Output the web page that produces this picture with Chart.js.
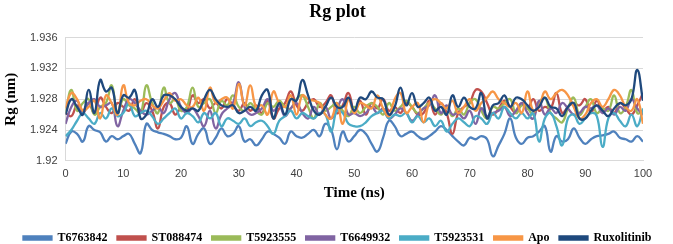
<!DOCTYPE html>
<html>
<head>
<meta charset="utf-8">
<script src="https://cdn.jsdelivr.net/npm/chart.js@4"></script>
<style>
  html, body { margin: 0; padding: 0; background: #fff; }
  #wrap { width: 673px; height: 244px; }
</style>
</head>
<body>
<div id="wrap"><canvas id="rgChart"></canvas></div>
<script>
// Time axis (ns)
const timeNs = [0,1,2,3,4,5,6,7,8,9,10,11,12,13,14,15,16,17,18,19,20,21,22,23,24,25,26,27,28,29,30,31,32,33,34,35,36,37,38,39,40,41,42,43,44,45,46,47,48,49,50,51,52,53,54,55,56,57,58,59,60,61,62,63,64,65,66,67,68,69,70,71,72,73,74,75,76,77,78,79,80,81,82,83,84,85,86,87,88,89,90,91,92,93,94,95,96,97,98,99,100];

// Rg values (nm)
const t6763842 = [1.9222,1.9238,1.9235,1.9225,1.9245,1.9240,1.9237,1.9225,1.9232,1.9228,1.9232,1.9235,1.9222,1.9210,1.9248,1.9240,1.9237,1.9235,1.9232,1.9228,1.9230,1.9245,1.9222,1.9235,1.9242,1.9222,1.9230,1.9242,1.9232,1.9235,1.9245,1.9225,1.9228,1.9220,1.9228,1.9238,1.9235,1.9230,1.9222,1.9238,1.9232,1.9230,1.9235,1.9240,1.9232,1.9248,1.9240,1.9215,1.9238,1.9225,1.9232,1.9240,1.9235,1.9222,1.9212,1.9230,1.9252,1.9245,1.9232,1.9235,1.9238,1.9232,1.9228,1.9232,1.9238,1.9245,1.9240,1.9232,1.9225,1.9220,1.9230,1.9228,1.9232,1.9228,1.9206,1.9220,1.9235,1.9255,1.9230,1.9222,1.9230,1.9232,1.9238,1.9245,1.9212,1.9232,1.9225,1.9228,1.9242,1.9230,1.9222,1.9228,1.9232,1.9233,1.9235,1.9238,1.9230,1.9228,1.9225,1.9232,1.9225];
const st088474 = [1.9262,1.9258,1.9272,1.9265,1.9275,1.9262,1.9282,1.9270,1.9262,1.9275,1.9270,1.9265,1.9280,1.9262,1.9275,1.9265,1.9242,1.9270,1.9275,1.9260,1.9268,1.9265,1.9285,1.9275,1.9280,1.9268,1.9275,1.9268,1.9280,1.9272,1.9265,1.9275,1.9265,1.9272,1.9262,1.9278,1.9255,1.9268,1.9275,1.9290,1.9272,1.9265,1.9275,1.9280,1.9270,1.9275,1.9285,1.9262,1.9272,1.9288,1.9265,1.9278,1.9260,1.9275,1.9268,1.9280,1.9265,1.9270,1.9262,1.9275,1.9270,1.9260,1.9262,1.9278,1.9260,1.9275,1.9262,1.9235,1.9262,1.9270,1.9275,1.9292,1.9290,1.9275,1.9260,1.9268,1.9278,1.9270,1.9262,1.9275,1.9268,1.9280,1.9265,1.9270,1.9268,1.9288,1.9262,1.9270,1.9275,1.9272,1.9280,1.9262,1.9278,1.9265,1.9270,1.9262,1.9275,1.9268,1.9260,1.9272,1.9288];
const t5923555 = [1.9262,1.9292,1.9265,1.9275,1.9280,1.9260,1.9270,1.9275,1.9298,1.9262,1.9280,1.9272,1.9268,1.9262,1.9298,1.9275,1.9262,1.9295,1.9275,1.9280,1.9265,1.9270,1.9295,1.9270,1.9275,1.9280,1.9262,1.9278,1.9272,1.9285,1.9270,1.9265,1.9275,1.9265,1.9260,1.9275,1.9270,1.9278,1.9270,1.9268,1.9280,1.9285,1.9270,1.9255,1.9275,1.9265,1.9270,1.9275,1.9265,1.9258,1.9270,1.9262,1.9270,1.9275,1.9270,1.9260,1.9275,1.9265,1.9270,1.9278,1.9270,1.9262,1.9268,1.9275,1.9268,1.9260,1.9270,1.9258,1.9268,1.9260,1.9275,1.9280,1.9265,1.9255,1.9270,1.9268,1.9275,1.9280,1.9262,1.9272,1.9268,1.9260,1.9275,1.9282,1.9262,1.9255,1.9250,1.9268,1.9282,1.9260,1.9270,1.9280,1.9262,1.9268,1.9265,1.9285,1.9262,1.9270,1.9292,1.9262,1.9265];
const t6649932 = [1.9248,1.9270,1.9278,1.9262,1.9275,1.9280,1.9270,1.9272,1.9275,1.9245,1.9265,1.9280,1.9275,1.9265,1.9260,1.9265,1.9270,1.9262,1.9280,1.9288,1.9270,1.9262,1.9268,1.9258,1.9245,1.9265,1.9242,1.9260,1.9268,1.9275,1.9302,1.9270,1.9260,1.9262,1.9268,1.9280,1.9265,1.9272,1.9258,1.9268,1.9275,1.9262,1.9255,1.9270,1.9260,1.9270,1.9255,1.9268,1.9280,1.9260,1.9262,1.9258,1.9262,1.9270,1.9262,1.9268,1.9255,1.9260,1.9268,1.9262,1.9252,1.9260,1.9268,1.9272,1.9285,1.9262,1.9272,1.9260,1.9262,1.9255,1.9265,1.9248,1.9268,1.9258,1.9262,1.9265,1.9270,1.9258,1.9265,1.9275,1.9262,1.9255,1.9278,1.9260,1.9268,1.9262,1.9275,1.9268,1.9260,1.9262,1.9270,1.9268,1.9272,1.9262,1.9268,1.9260,1.9270,1.9265,1.9280,1.9268,1.9260];
const t5923531 = [1.9232,1.9240,1.9252,1.9262,1.9255,1.9248,1.9262,1.9255,1.9268,1.9258,1.9262,1.9275,1.9258,1.9262,1.9265,1.9258,1.9248,1.9255,1.9262,1.9268,1.9255,1.9262,1.9258,1.9250,1.9262,1.9255,1.9262,1.9245,1.9255,1.9252,1.9248,1.9255,1.9245,1.9250,1.9252,1.9245,1.9235,1.9252,1.9258,1.9265,1.9255,1.9262,1.9258,1.9255,1.9262,1.9260,1.9238,1.9265,1.9262,1.9248,1.9245,1.9245,1.9250,1.9258,1.9262,1.9265,1.9255,1.9260,1.9258,1.9262,1.9250,1.9258,1.9250,1.9255,1.9245,1.9252,1.9238,1.9248,1.9255,1.9250,1.9245,1.9258,1.9255,1.9248,1.9262,1.9255,1.9270,1.9262,1.9255,1.9262,1.9255,1.9262,1.9225,1.9255,1.9262,1.9245,1.9220,1.9255,1.9260,1.9248,1.9255,1.9262,1.9258,1.9218,1.9255,1.9262,1.9252,1.9245,1.9260,1.9245,1.9268];
const apo = [1.9268,1.9288,1.9280,1.9265,1.9270,1.9278,1.9255,1.9285,1.9275,1.9260,1.9298,1.9275,1.9272,1.9278,1.9280,1.9272,1.9268,1.9278,1.9288,1.9278,1.9280,1.9272,1.9270,1.9282,1.9265,1.9295,1.9275,1.9280,1.9282,1.9268,1.9300,1.9272,1.9298,1.9270,1.9272,1.9260,1.9290,1.9275,1.9270,1.9285,1.9260,1.9285,1.9280,1.9278,1.9275,1.9260,1.9255,1.9275,1.9248,1.9280,1.9262,1.9275,1.9272,1.9268,1.9285,1.9268,1.9258,1.9280,1.9288,1.9262,1.9270,1.9275,1.9250,1.9275,1.9280,1.9275,1.9268,1.9278,1.9262,1.9270,1.9280,1.9265,1.9275,1.9282,1.9290,1.9280,1.9275,1.9270,1.9275,1.9262,1.9290,1.9265,1.9270,1.9290,1.9280,1.9288,1.9292,1.9285,1.9270,1.9255,1.9260,1.9275,1.9280,1.9270,1.9280,1.9292,1.9285,1.9270,1.9265,1.9280,1.9248];
const ruxolitinib = [1.9260,1.9280,1.9270,1.9260,1.9292,1.9262,1.9305,1.9290,1.9295,1.9262,1.9285,1.9282,1.9292,1.9255,1.9260,1.9280,1.9270,1.9285,1.9285,1.9280,1.9270,1.9265,1.9268,1.9265,1.9280,1.9292,1.9280,1.9272,1.9270,1.9272,1.9262,1.9265,1.9270,1.9265,1.9285,1.9292,1.9255,1.9275,1.9260,1.9280,1.9278,1.9305,1.9285,1.9265,1.9260,1.9270,1.9282,1.9270,1.9270,1.9282,1.9265,1.9282,1.9280,1.9290,1.9282,1.9280,1.9260,1.9270,1.9295,1.9272,1.9288,1.9270,1.9275,1.9282,1.9265,1.9270,1.9260,1.9285,1.9270,1.9282,1.9270,1.9268,1.9288,1.9255,1.9272,1.9275,1.9285,1.9270,1.9282,1.9280,1.9272,1.9265,1.9270,1.9282,1.9270,1.9268,1.9258,1.9270,1.9275,1.9255,1.9255,1.9265,1.9272,1.9265,1.9258,1.9268,1.9275,1.9272,1.9280,1.9318,1.9278];

const seriesNames = ['T6763842', 'ST088474', 'T5923555', 'T6649932', 'T5923531', 'Apo', 'Ruxolitinib'];
const seriesValues = [t6763842, st088474, t5923555, t6649932, t5923531, apo, ruxolitinib];
const seriesColors = ['#4F81BD', '#C0504D', '#9BBB59', '#8064A2', '#4BACC6', '#F79646', '#1F497D'];

const yTicks = [1.92, 1.924, 1.928, 1.932, 1.936];

const serif = "'Liberation Serif', 'Times New Roman', serif";
const sans = "'Liberation Sans', Arial, sans-serif";

const datasets = seriesValues.map((vals, i) => ({
    label: seriesNames[i],
    data: vals.map((v, k) => ({ x: timeNs[k], y: v })),
    borderColor: seriesColors[i],
    backgroundColor: seriesColors[i],
    borderWidth: 2.3,
    pointRadius: 0,
    tension: 0.45,
    fill: false,
    // Excel draws later series on top
    order: seriesValues.length - i
}));

new Chart(document.getElementById('rgChart'), {
    type: 'line',
    data: { datasets: datasets },
    options: {
        responsive: true,
        maintainAspectRatio: false,
        animation: false,
        layout: { padding: { left: 2, right: 0, top: 2, bottom: -10 } },
        plugins: {
            title: {
                display: true,
                text: 'Rg plot',
                color: '#000',
                font: { family: serif, size: 18, weight: 'bold' },
                padding: { top: 0, bottom: 14 }
            },
            legend: {
                display: true,
                position: 'bottom',
                labels: {
                    color: '#000',
                    font: { family: serif, size: 12, weight: 'bold' },
                    boxWidth: 28,
                    boxHeight: 3,
                    padding: 10,
                    sort: (a, b) => a.datasetIndex - b.datasetIndex
                }
            },
            tooltip: { enabled: false }
        },
        scales: {
            x: {
                type: 'linear',
                min: 0,
                max: 100,
                ticks: {
                    stepSize: 10,
                    color: '#404040',
                    font: { family: sans, size: 11 },
                    padding: -1
                },
                grid: { display: false },
                border: { display: true, color: '#D9D9D9', width: 1 },
                title: {
                    display: true,
                    text: 'Time (ns)',
                    color: '#000',
                    font: { family: serif, size: 15, weight: 'bold' },
                    padding: { top: 4, bottom: 20 }
                }
            },
            y: {
                min: 1.92,
                max: 1.936,
                afterBuildTicks: axis => { axis.ticks = yTicks.map(v => ({ value: v })); },
                ticks: {
                    color: '#404040',
                    font: { family: sans, size: 11 },
                    padding: 8,
                    callback: v => String(+v.toFixed(3))
                },
                grid: { color: '#D9D9D9', lineWidth: 1, drawTicks: false },
                border: { display: true, color: '#D9D9D9', width: 1 },
                title: {
                    display: true,
                    text: 'Rg (nm)',
                    color: '#000',
                    font: { family: serif, size: 15, weight: 'bold' },
                    padding: { top: 0, bottom: 2 }
                }
            },
            // empty right-hand gutter so the title stays centred on the page
            gutter: {
                type: 'linear',
                position: 'right',
                min: 0,
                max: 1,
                ticks: { display: false },
                grid: { display: false },
                border: { display: false },
                afterFit: scale => { scale.width = 30; }
            }
        }
    }
});
</script>
</body>
</html>
